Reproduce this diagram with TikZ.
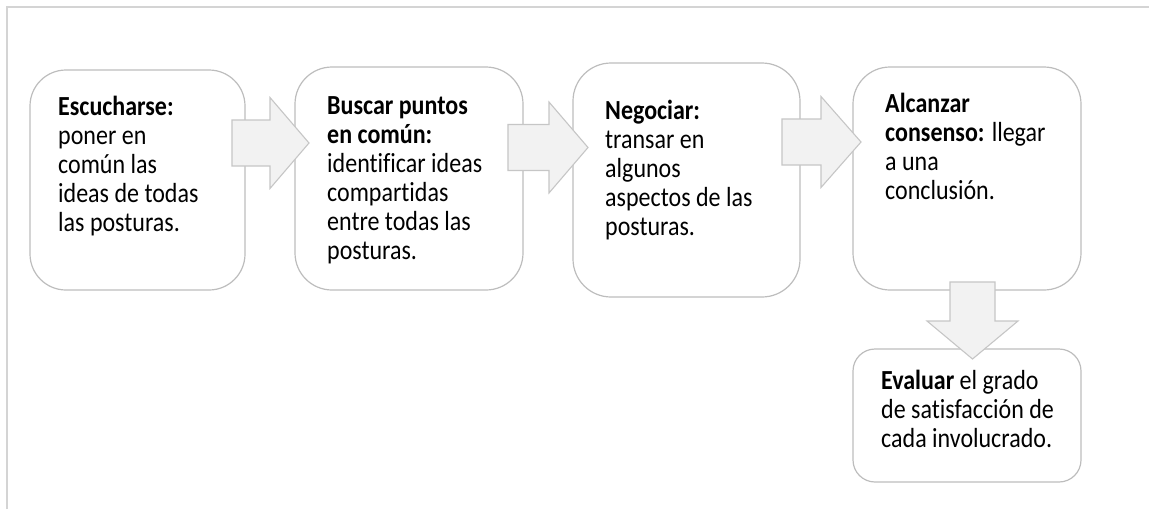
\documentclass[tikz,border=0pt]{standalone}
\usepackage{fontspec}
\usepackage{graphicx}
\setmainfont{Carlito}[Ligatures=NoCommon]
\definecolor{framegray}{HTML}{D4D4D4}
\definecolor{boxgray}{HTML}{BDBDBD}
\definecolor{arrowfill}{HTML}{F2F2F2}
\definecolor{arrowline}{HTML}{C6C6C6}
\newcommand{\steplines}[1]{\scalebox{1}[1.15]{\fontsize{24}{25.22}\selectfont\begin{tabular}{@{}l@{}}#1\end{tabular}}}
\begin{document}
\begin{tikzpicture}[x=1pt,y=-1pt,
  frameline/.style={draw=framegray,line width=1.6pt},
  stepbox/.style={draw=boxgray,fill=white,line width=1.2pt,rectangle,inner sep=0pt},
  steptext/.style={anchor=north west,inner sep=0pt,text=black},
  blockarrow/.style={draw=arrowline,fill=arrowfill,line width=1.1pt,line join=miter}]
\useasboundingbox (0,0) rectangle (1149,509);
\draw[frameline] (7,509) -- (7,7) -- (1149,7);
% boxes
\node[stepbox,minimum width=215pt,minimum height=220pt,rounded corners=36pt] (b1) at (137.5,180) {};
\node[stepbox,minimum width=228pt,minimum height=223pt,rounded corners=37pt] (b2) at (409,178.5) {};
\node[stepbox,minimum width=227pt,minimum height=234pt,rounded corners=38pt] (b3) at (686.5,180) {};
\node[stepbox,minimum width=228pt,minimum height=223pt,rounded corners=37pt] (b4) at (967,178.5) {};
\node[stepbox,minimum width=228pt,minimum height=133pt,rounded corners=22pt] (b5) at (967,415.5) {};
% texts
\node[steptext] (t1) at (58,95) {\steplines{\textbf{Escucharse:}\\poner en\\común las\\ideas de todas\\las posturas.}};
\node[steptext] (t2) at (327,94) {\steplines{\textbf{Buscar puntos}\\\textbf{en común:}\\identificar ideas\\compartidas\\entre todas las\\posturas.}};
\node[steptext] (t3) at (605,99) {\steplines{\textbf{Negociar:}\\transar en\\algunos\\aspectos de las\\posturas.}};
\node[steptext] (t4) at (885,92) {\steplines{\textbf{Alcanzar}\\\textbf{consenso:} llegar\\a una\\conclusión.}};
\node[steptext] (t5) at (881,368.5) {\steplines{\textbf{Evaluar} el grado\\de satisfacción de\\cada involucrado.}};
% block arrows
\draw[blockarrow] (232,120) -- (270,120) -- (270,97.5) -- (309,143) -- (270,188.5) -- (270,166) -- (232,166) -- cycle;
\draw[blockarrow] (508,124.5) -- (549,124.5) -- (549,102) -- (588,147.5) -- (549,193) -- (549,170.5) -- (508,170.5) -- cycle;
\draw[blockarrow] (782,119) -- (821,119) -- (821,96.5) -- (861,142) -- (821,187.5) -- (821,165) -- (782,165) -- cycle;
\draw[blockarrow] (950,282) -- (950,321) -- (927,321) -- (972.5,359) -- (1018,321) -- (995,321) -- (995,282) -- cycle;
\end{tikzpicture}
\end{document}
